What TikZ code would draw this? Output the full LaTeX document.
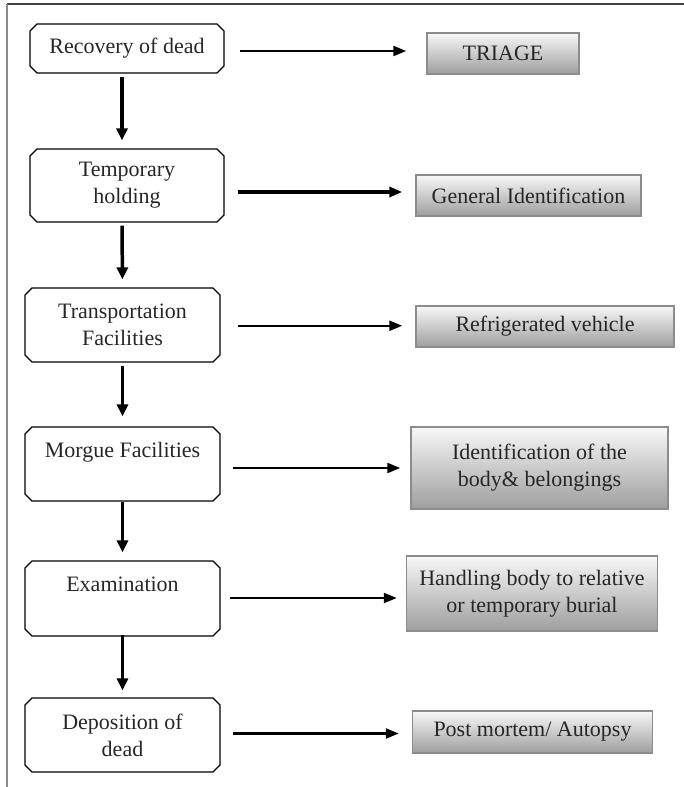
\documentclass[tikz,border=0pt]{standalone}
\usepackage{fontspec}
\setmainfont{Liberation Serif}
\usetikzlibrary{shapes.misc, arrows.meta, calc}

\begin{document}
\begin{tikzpicture}[x=1pt, y=-1pt,
        every node/.style={font=\fontsize{22}{27}\selectfont, text=black!85, align=center, inner sep=0pt},
        stage/.style={chamfered rectangle, chamfered rectangle xsep=3.5pt, chamfered rectangle ysep=3.5pt,
            draw=black, line width=1.2pt, minimum width=195pt, minimum height=74pt},
        task/.style={rectangle, draw=black!45, line width=1.5pt, top color=black!3, bottom color=black!38,
            minimum height=41pt},
        vflow/.style={line width=3.5pt, -{Triangle[length=12pt,width=11pt]}, shorten <=3pt, shorten >=8pt},
        hflow/.style={line width=2.3pt, -{Triangle[length=13pt,width=10pt]}, shorten <=13pt, shorten >=13pt}]
    \useasboundingbox (0,0) rectangle (684,787);
    % frame
    \draw[black!75, line width=1.2pt] (7,4) -- (684,4);
    \draw[black!45, line width=1.4pt] (7,4) -- (7,787);

    % left column
    \node[stage, minimum width=194pt, minimum height=49pt] (rec) at (127,48.5) {Recovery of dead};
    \node[stage, minimum width=194pt, minimum height=73pt] (temp) [below of=rec, node distance=137pt] {Temporary\\holding};
    \node[stage] (trans) [below of=temp, node distance=139.5pt, xshift=-4.5pt] {Transportation\\Facilities};
    \node[stage] (morgue) [below of=trans, node distance=139pt] {Morgue Facilities\\[-6pt] \strut};
    \node[stage, minimum height=75pt] (exam) [below of=morgue, node distance=134.5pt] {Examination\\[-6pt] \strut};
    \node[stage] (dep) [below of=exam, node distance=136.5pt] {Deposition of\\dead};

    % right column
    \node[task, minimum width=152pt] (triage) [right of=rec, node distance=376pt, yshift=-5pt] {TRIAGE};
    \node[task, minimum width=225pt] (genid) [right of=temp, node distance=401.5pt, yshift=-10pt] {General Identification};
    \node[task, minimum width=258pt] (refveh) [right of=trans, node distance=422.5pt, yshift=-1.5pt] {Refrigerated vehicle};
    \node[task, minimum width=257pt, minimum height=82pt] (ident) [right of=morgue, node distance=417pt, yshift=-4pt] {Identification of the\\body\& belongings};
    \node[task, minimum width=251pt, minimum height=75pt] (handl) [right of=exam, node distance=409.5pt, yshift=5pt] {Handling body to relative\\or temporary burial};
    \node[task, minimum width=240pt, minimum height=42pt] (post) [right of=dep, node distance=410pt, yshift=3pt] {Post mortem/ Autopsy};

    % downward flow
    \draw[vflow] ([xshift=-5pt]rec.south) -- ([xshift=-5pt]temp.north);
    \draw[vflow] ([xshift=-5pt]temp.south) -- (trans.north);
    \draw[vflow, line width=3pt, shorten >=10pt] (trans.south) -- (morgue.north);
    \draw[vflow, line width=3pt, shorten <=0pt] (morgue.south) -- (morgue.south |- exam.north);
    \draw[vflow, line width=3pt, shorten <=-2pt, shorten >=7pt] (exam.south) -- (exam.south |- dep.north);

    % arrows to the right
    \coordinate (m1) at ($(rec.east)!.5!(triage.west)$);
    \coordinate (m2) at ($(temp.east)!.5!(genid.west)$);
    \coordinate (m3) at ($(trans.east)!.5!(refveh.west)$);
    \coordinate (m4) at ($(morgue.east)!.5!(ident.west)$);
    \coordinate (m5) at ($(exam.east)!.5!(handl.west)$);
    \coordinate (m6) at ($(dep.east)!.5!(post.west)$);
    \draw[hflow, shorten <=15pt, shorten >=20pt] (m1 -| rec.east) -- (m1 -| triage.west);
    \draw[hflow, line width=3.8pt] ([yshift=-1.5pt]m2 -| temp.east) -- ([yshift=-1.5pt]m2 -| genid.west);
    \draw[hflow, shorten <=17pt] (m3 -| trans.east) -- (m3 -| refveh.west);
    \draw[hflow, shorten <=12pt, shorten >=10pt] ([yshift=-2pt]m4 -| morgue.east) -- ([yshift=-2pt]m4 -| ident.west);
    \draw[hflow, shorten <=9pt, shorten >=9pt] ([yshift=-2pt]m5 -| exam.east) -- ([yshift=-2pt]m5 -| handl.west);
    \draw[hflow, shorten <=12pt] (m6 -| dep.east) -- (m6 -| post.west);
\end{tikzpicture}
\end{document}
